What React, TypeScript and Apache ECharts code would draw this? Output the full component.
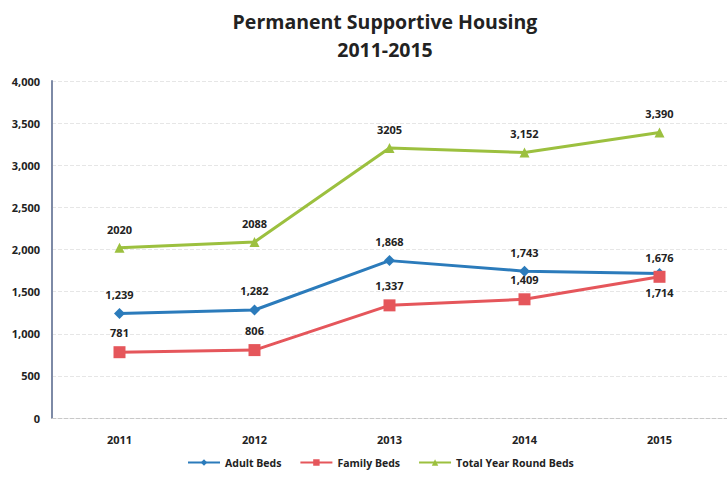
import React, { useEffect, useRef } from "react";
import * as echarts from "echarts";

const years = ["2011", "2012", "2013", "2014", "2015"];
const adultBeds = [1239, 1282, 1868, 1743, 1714];
const familyBeds = [781, 806, 1337, 1409, 1676];
const totalBeds = [2020, 2088, 3205, 3152, 3390];
const adultLabels = ["1,239", "1,282", "1,868", "1,743", "1,714"];
const familyLabels = ["781", "806", "1,337", "1,409", "1,676"];
const totalLabels = ["2020", "2088", "3205", "3,152", "3,390"];
const yTicks = [0, 500, 1000, 1500, 2000, 2500, 3000, 3500, 4000];

const FONT = "'Open Sans', 'Noto Sans', sans-serif";

export default function App() {
  const ref = useRef<HTMLDivElement>(null);
  useEffect(() => {
    if (!ref.current) return;
    const chart = echarts.init(ref.current, null, { renderer: "svg" });
    const labelStyle = {
      show: true,
      position: "top",
      distance: 8,
      fontFamily: FONT,
      fontWeight: "bold",
      fontSize: 11,
      color: "#222",
    };
    const mk = (labels: string[], vals: number[], below: number[] = []) =>
      vals.map((v, i) => ({
        value: v,
        label: {
          formatter: labels[i],
          position: below.includes(i) ? "bottom" : "top",
        },
      }));
    chart.setOption({
      animation: false,
      backgroundColor: "#ffffff",
      title: {
        text: "Permanent Supportive Housing\n2011-2015",
        left: 380,
        textAlign: "center",
        top: 2,
        textStyle: {
          fontFamily: FONT,
          fontWeight: "bold",
          fontSize: 19.5,
          lineHeight: 28,
          color: "#222",
        },
      },
      legend: {
        bottom: 6,
        left: 182,
        orient: "horizontal",
        itemWidth: 32,
        itemHeight: 8,
        itemGap: 18,
        textStyle: { fontFamily: FONT, fontWeight: "bold", fontSize: 10.5, color: "#222" },
        data: ["Adult Beds", "Family Beds", "Total Year Round Beds"],
      },
      grid: { left: 52, top: 81, right: 0, bottom: 61, containLabel: false },
      xAxis: {
        type: "category",
        data: years,
        boundaryGap: true,
        axisLine: { show: true, lineStyle: { color: "#c8c8c8", type: "dashed" } },
        axisTick: { show: false },
        axisLabel: {
          fontFamily: FONT,
          fontWeight: "bold",
          fontSize: 11,
          color: "#222",
          margin: 16,
        },
      },
      yAxis: {
        type: "value",
        min: 0,
        max: 4000,
        interval: 500,
        axisLine: { show: true, lineStyle: { color: "#7d8aa6", width: 2 } },
        axisTick: { show: false },
        splitLine: { show: true, lineStyle: { color: "#e6e6e6", type: "dashed" } },
        axisLabel: {
          fontFamily: FONT,
          fontWeight: "bold",
          fontSize: 11,
          color: "#222",
          margin: 12,
          formatter: (v: number) => (yTicks.includes(v) ? v.toLocaleString("en-US") : ""),
        },
      },
      series: [
        {
          name: "Adult Beds",
          type: "line",
          data: mk(adultLabels, adultBeds, [4]),
          symbol: "diamond",
          symbolSize: 11,
          itemStyle: { color: "#2b7bbb" },
          lineStyle: { color: "#2b7bbb", width: 3 },
          label: labelStyle,
          z: 3,
        },
        {
          name: "Family Beds",
          type: "line",
          data: mk(familyLabels, familyBeds),
          symbol: "rect",
          symbolSize: 12,
          itemStyle: { color: "#e5565b" },
          lineStyle: { color: "#e5565b", width: 3 },
          label: labelStyle,
          z: 4,
        },
        {
          name: "Total Year Round Beds",
          type: "line",
          data: mk(totalLabels, totalBeds),
          symbol: "triangle",
          symbolSize: 10,
          itemStyle: { color: "#9cc03f" },
          lineStyle: { color: "#9cc03f", width: 3 },
          label: labelStyle,
          z: 2,
        },
      ],
    });
    return () => chart.dispose();
  }, []);
  return (
    <div
      ref={ref}
      style={{ position: "fixed", left: 0, top: 0, width: 727, height: 479 }}
    />
  );
}
